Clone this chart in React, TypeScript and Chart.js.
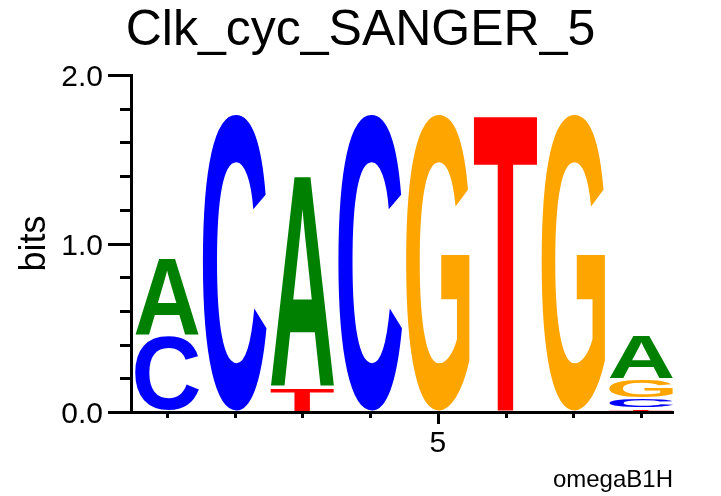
import React, { useEffect, useRef } from 'react';
import { Chart, registerables } from 'chart.js';

Chart.register(...registerables);

// ---- data ----
const positions = [1, 2, 3, 4, 5, 6, 7, 8];
const bitsA = [0.46, 0, 1.26, 0, 0, 0, 0, 0.26];
const bitsC = [0.45, 1.77, 0, 1.77, 0, 0, 0, 0.06];
const bitsG = [0, 0, 0, 0, 1.77, 0, 1.77, 0.11];
const bitsT = [0, 0, 0.14, 0, 0, 1.77, 0, 0.02];
const xTickLabels = ['', '', '', '', '5', '', '', ''];
const yTickValues = [0, 0.2, 0.4, 0.6, 0.8, 1.0, 1.2, 1.4, 1.6, 1.8, 2.0];
const yTickLabels = ['0.0', '', '', '', '', '1.0', '', '', '', '', '2.0'];
const letterColors: Record<string, string> = {
  A: '#008000',
  C: '#0000ff',
  G: '#ffa500',
  T: '#ff0000',
};

const FONT = "'Liberation Sans', Arial, Helvetica, sans-serif";

// Build stacked layers: per position, letters sorted ascending (smallest at bottom)
const letterSeries: [string, number[]][] = [
  ['A', bitsA],
  ['C', bitsC],
  ['G', bitsG],
  ['T', bitsT],
];
const layers = [0, 1, 2, 3].map(() => ({ data: [] as { x: number; y: number }[], letters: [] as string[] }));
positions.forEach((p, i) => {
  const col = letterSeries
    .map(([l, v]) => ({ l, v: v[i] }))
    .filter((e) => e.v > 0)
    .sort((a, b) => a.v - b.v);
  layers.forEach((layer, r) => {
    const e = col[r];
    layer.data.push({ x: p, y: e ? e.v : 0 });
    layer.letters.push(e ? e.l : '');
  });
});

const logoPlugin = {
  id: 'logoLetters',
  afterDatasetsDraw(chart: any) {
    const ctx = chart.ctx as CanvasRenderingContext2D;
    chart.data.datasets.forEach((ds: any, di: number) => {
      const meta = chart.getDatasetMeta(di);
      meta.data.forEach((bar: any, i: number) => {
        const letter = ds.letters[i];
        if (!letter) return;
        const { x, y, base, width } = bar.getProps(['x', 'y', 'base', 'width'], true);
        const top = Math.min(y, base) + 0.5;
        const bottom = Math.max(y, base) - 1.5;
        const h = bottom - top;
        if (h <= 0.5) return;
        ctx.save();
        ctx.font = `bold 200px ${FONT}`;
        ctx.textBaseline = 'alphabetic';
        ctx.textAlign = 'left';
        const m = ctx.measureText(letter);
        const gw = m.actualBoundingBoxLeft + m.actualBoundingBoxRight;
        const gh = m.actualBoundingBoxAscent + m.actualBoundingBoxDescent;
        ctx.translate(x - width / 2, top);
        ctx.scale(width / gw, h / gh);
        ctx.fillStyle = letterColors[letter];
        ctx.fillText(letter, m.actualBoundingBoxLeft, m.actualBoundingBoxAscent);
        ctx.restore();
      });
    });
  },
};

const tickPlugin = {
  id: 'logoTicks',
  afterDraw(chart: any) {
    const ctx = chart.ctx as CanvasRenderingContext2D;
    const { left, bottom } = chart.chartArea;
    const xs = chart.scales.x;
    const ys = chart.scales.y;
    ctx.save();
    ctx.strokeStyle = '#000';
    ctx.lineWidth = 3;
    ctx.lineCap = 'butt';
    ys.ticks.forEach((t: any, i: number) => {
      const py = Math.round(ys.getPixelForValue(t.value)) + 0.5;
      const major = yTickLabels[i] !== '';
      ctx.beginPath();
      ctx.moveTo(left - (major ? 23 : 11), py);
      ctx.lineTo(left, py);
      ctx.stroke();
    });
    xs.ticks.forEach((t: any, i: number) => {
      const px = Math.round(xs.getPixelForValue(t.value)) + 0.5;
      const major = xTickLabels[i] !== '';
      ctx.beginPath();
      ctx.moveTo(px, bottom);
      ctx.lineTo(px, bottom + (major ? 12 : 6));
      ctx.stroke();
    });
    ctx.restore();
  },
};

export default function App() {
  const ref = useRef<HTMLCanvasElement>(null);
  useEffect(() => {
    Chart.defaults.font.family = FONT;
    Chart.defaults.color = '#000';
    const chart = new Chart(ref.current as HTMLCanvasElement, {
      type: 'bar',
      data: {
        datasets: layers.map((layer, r) => ({
          label: `layer${r}`,
          data: layer.data,
          letters: layer.letters,
          backgroundColor: 'rgba(0,0,0,0)',
          borderWidth: 0,
          categoryPercentage: 1,
          barPercentage: 0.94,
        })) as any,
      },
      options: {
        animation: false,
        responsive: false,
        devicePixelRatio: 1,
        layout: { padding: 0 },
        plugins: {
          legend: { display: false },
          tooltip: { enabled: false },
          title: {
            display: true,
            text: 'Clk_cyc_SANGER_5',
            color: '#000',
            font: { size: 50, weight: 'normal', lineHeight: 1, family: FONT },
            padding: { top: 6, bottom: 19 },
          },
        },
        scales: {
          x: {
            type: 'linear',
            min: 0.47,
            max: 8.47,
            stacked: true,
            offset: false,
            afterBuildTicks: (s: any) => {
              s.ticks = positions.map((p) => ({ value: p }));
            },
            afterFit: (s: any) => {
              s.height = 84;
            },
            ticks: {
              autoSkip: false,
              maxRotation: 0,
              padding: 14,
              color: '#000',
              font: { size: 30, family: FONT },
              callback: (_v: any, i: number) => xTickLabels[i],
            },
            grid: { display: false, drawTicks: false },
            border: { display: true, color: '#000', width: 3 },
            title: {
              display: true,
              text: 'omegaB1H',
              align: 'end',
              color: '#000',
              font: { size: 24, lineHeight: 1, family: FONT },
              padding: { top: 0, bottom: 4 },
            },
          },
          y: {
            type: 'linear',
            min: 0,
            max: 2,
            stacked: true,
            afterBuildTicks: (s: any) => {
              s.ticks = yTickValues.map((v) => ({ value: v }));
            },
            afterFit: (s: any) => {
              s.width = 131;
            },
            ticks: {
              autoSkip: false,
              padding: 28,
              labelOffset: 3,
              color: '#000',
              font: { size: 30, family: FONT },
              callback: (_v: any, i: number) => yTickLabels[i],
            },
            grid: { display: false, drawTicks: false },
            border: { display: true, color: '#000', width: 3 },
            title: {
              display: true,
              text: 'bits',
              color: '#000',
              font: { size: 36, lineHeight: 1, family: FONT },
              padding: { top: 17, bottom: 0 },
            },
          },
          yRightMargin: {
            type: 'linear',
            position: 'right',
            display: true,
            min: 0,
            max: 2,
            afterFit: (s: any) => {
              s.width = 48;
            },
            ticks: { display: false },
            grid: { display: false, drawTicks: false },
            border: { display: false },
            title: { display: false },
          },
        },
      } as any,
      plugins: [logoPlugin, tickPlugin],
    });
    return () => chart.destroy();
  }, []);
  return (
    <div style={{ position: 'absolute', left: 0, top: 0, width: 721, height: 496, background: '#fff' }}>
      <canvas ref={ref} width={721} height={496} style={{ display: 'block', width: 721, height: 496 }} />
    </div>
  );
}
